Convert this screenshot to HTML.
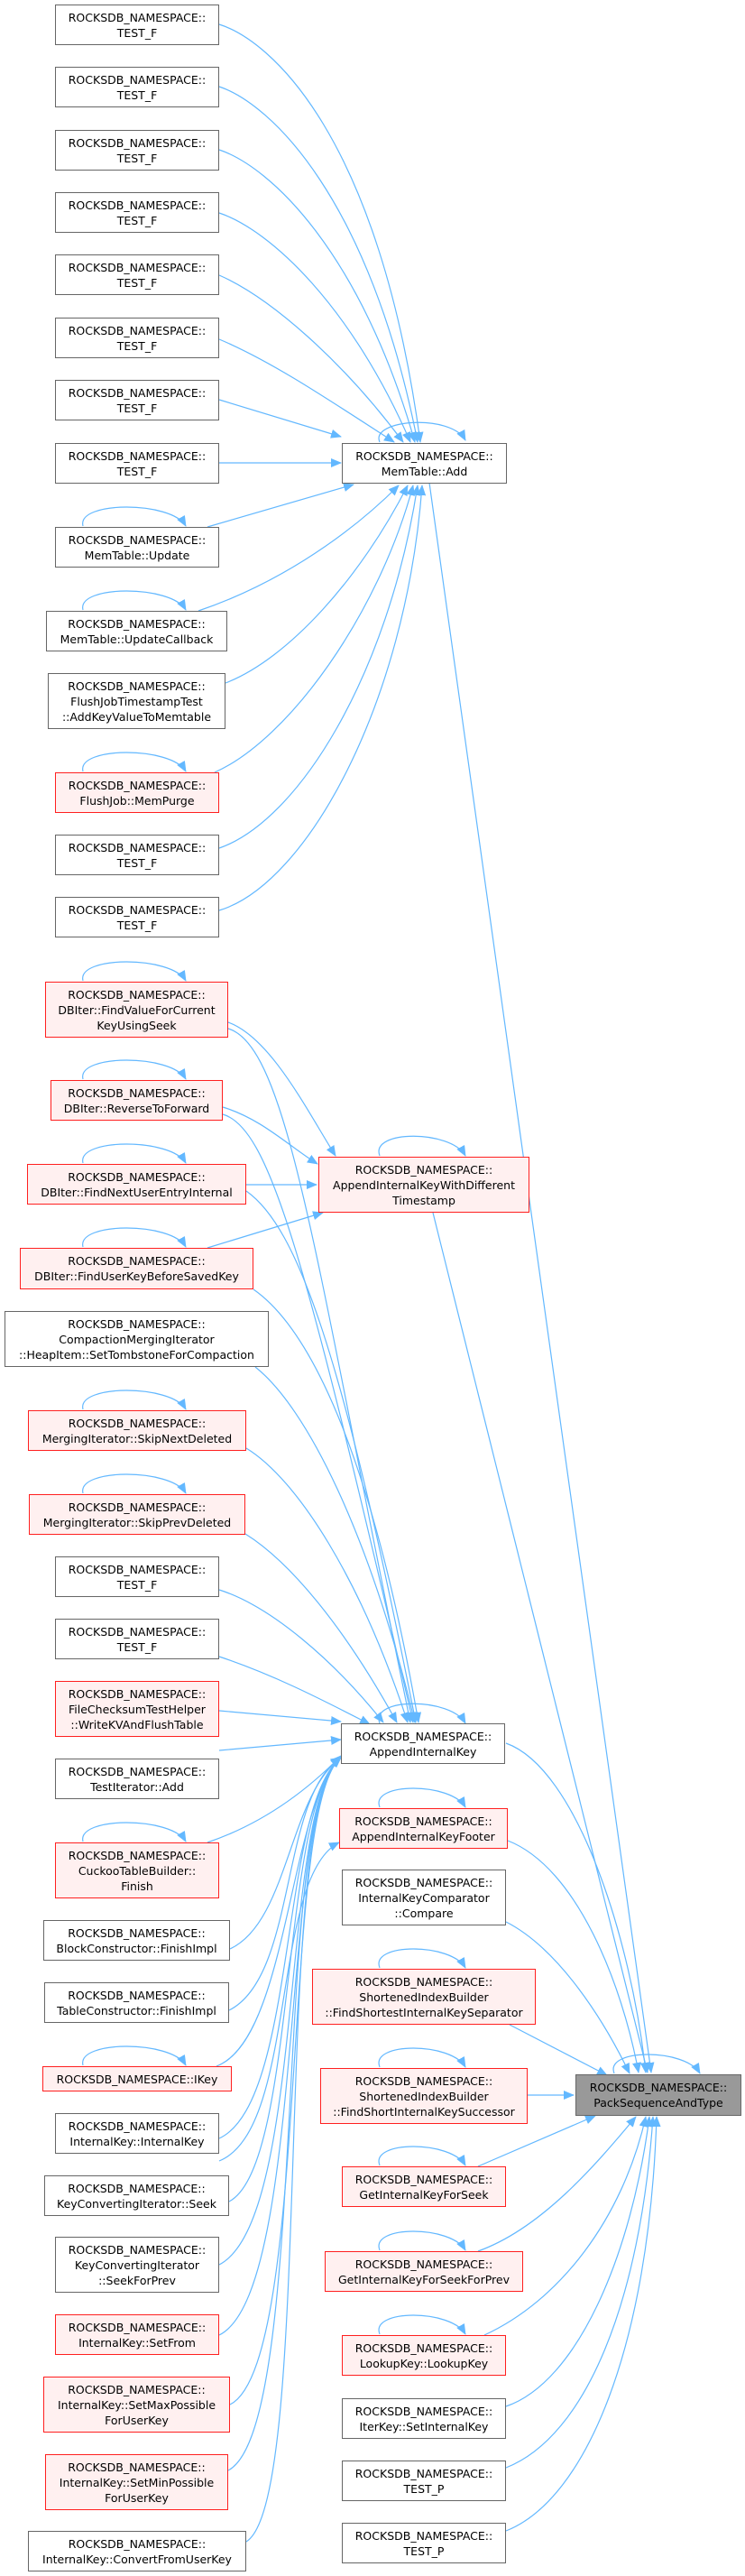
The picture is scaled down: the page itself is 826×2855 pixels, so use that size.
<!DOCTYPE html>
<html><head><meta charset="utf-8"><style>
html,body{margin:0;padding:0;background:#fff}
body{width:826px;height:2855px;position:relative;overflow:hidden;font-family:"DejaVu Sans","Liberation Sans",sans-serif}
.n{position:absolute;box-sizing:border-box;border:1.5px solid #666;background:#fff;display:flex;flex-direction:column;justify-content:center;align-items:center;text-align:center;font-size:12.5px;line-height:17px;color:#000;white-space:nowrap}
.r{border-color:#ff2020;background:#fff0f0}
.g{background:#999;border-color:#666}
svg{position:absolute;left:0;top:0}
</style></head><body>
<svg width="826" height="2855" viewBox="0 0 826 2855">
<defs><marker id="a" markerUnits="userSpaceOnUse" markerWidth="12" markerHeight="10" refX="11" refY="5" orient="auto"><path d="M0,0 L12,5 L0,10 z" fill="#63b8ff"/></marker></defs>
<g fill="none" stroke="#63b8ff" stroke-width="1.2" marker-end="url(#a)">
<!-- to MemTable::Add -->
<path d="M243,27 C300,45 420,150 466,490"/>
<path d="M243,96 C300,115 410,220 463,490"/>
<path d="M243,166 C300,185 400,280 460,490"/>
<path d="M243,236 C300,255 390,340 455,490"/>
<path d="M243,305 C300,330 380,400 447,490"/>
<path d="M243,376 C300,400 360,440 437,490"/>
<path d="M243,443 L378,484"/>
<path d="M243,513 L378,513"/>
<path d="M230,584 L392,537"/>
<path d="M220,677 C300,650 380,600 442,538"/>
<path d="M250,757 C320,730 400,640 452,538"/>
<path d="M238,856 C320,820 420,680 458,538"/>
<path d="M243,940 C330,910 430,750 463,538"/>
<path d="M243,1009 C340,980 450,780 468,538"/>
<!-- Add -> Pack -->
<path d="M476,535 L722,2297"/>
<!-- to AIKWDT -->
<path d="M253,1133 C300,1150 340,1230 372,1281"/>
<path d="M247,1227 C290,1240 320,1270 352,1290"/>
<path d="M273,1313 L351,1313"/>
<path d="M230,1383 L358,1344"/>
<path d="M480,1344 L718,2297"/>
<!-- to AppendInternalKey top -->
<path d="M253,1140 C320,1160 350,1400 455,1909"/>
<path d="M247,1235 C300,1250 340,1400 458,1909"/>
<path d="M273,1320 C330,1360 380,1500 461,1909"/>
<path d="M281,1429 C340,1470 410,1600 464,1909"/>
<path d="M283,1515 C340,1560 410,1700 460,1909"/>
<path d="M273,1605 C330,1640 400,1750 452,1909"/>
<path d="M272,1700 C320,1730 380,1800 440,1909"/>
<path d="M243,1762 C300,1780 370,1840 425,1909"/>
<path d="M243,1836 C300,1855 350,1880 410,1911"/>
<path d="M243,1896 L378,1908"/>
<path d="M243,1940 L378,1928"/>
<path d="M230,2042 C280,2025 330,1995 378,1946"/>
<path d="M255,2160 C320,2130 320,1990 378,1948"/>
<path d="M254,2228 C330,2190 310,1990 378,1948"/>
<path d="M240,2290 C320,2260 320,2000 378,1948"/>
<path d="M243,2370 C330,2330 310,2000 378,1948"/>
<path d="M254,2440 C330,2400 310,2000 378,1948"/>
<path d="M243,2510 C340,2460 310,2000 378,1948"/>
<path d="M243,2588 C340,2540 310,2000 378,1948"/>
<path d="M255,2665 C345,2620 310,2000 378,1948"/>
<path d="M253,2738 C345,2690 300,2000 378,1948"/>
<path d="M273,2817 C350,2770 300,2000 378,1948"/>
<path d="M243,2395 C330,2360 300,2080 376,2042"/>
<!-- to PackSequenceAndType -->
<path d="M561,1932 C640,1960 700,2150 716,2297"/>
<path d="M563,2040 C640,2070 690,2200 708,2297"/>
<path d="M561,2130 C620,2160 670,2240 698,2298"/>
<path d="M565,2244 L673,2300"/>
<path d="M585,2322 L636,2322"/>
<path d="M530,2401 L660,2345"/>
<path d="M530,2495 C600,2470 660,2400 705,2346"/>
<path d="M537,2588 C620,2550 690,2460 716,2346"/>
<path d="M561,2667 C640,2640 700,2500 720,2346"/>
<path d="M561,2735 C650,2700 710,2550 724,2346"/>
<path d="M561,2805 C650,2770 720,2600 728,2346"/>
<!-- self loops -->
<path d="M421,490 C410,465 500,458 516,488"/>
<path d="M92,583 C85,555 190,555 206,583"/>
<path d="M92,676 C85,648 190,648 206,676"/>
<path d="M92,855 C85,827 190,827 206,855"/>
<path d="M92,1087 C85,1059 190,1059 206,1087"/>
<path d="M92,1196 C85,1168 190,1168 206,1196"/>
<path d="M92,1289 C85,1261 190,1261 206,1289"/>
<path d="M92,1382 C85,1354 190,1354 206,1382"/>
<path d="M92,1562 C85,1534 190,1534 206,1562"/>
<path d="M92,1655 C85,1627 190,1627 206,1655"/>
<path d="M92,2041 C85,2013 190,2013 206,2041"/>
<path d="M92,2289 C85,2261 190,2261 206,2289"/>
<path d="M421,1281 C410,1252 500,1252 516,1281"/>
<path d="M421,1910 C410,1881 500,1881 516,1910"/>
<path d="M421,2003 C410,1975 500,1975 516,2003"/>
<path d="M421,2181 C410,2153 500,2153 516,2181"/>
<path d="M421,2291 C410,2263 500,2263 516,2291"/>
<path d="M421,2400 C410,2372 500,2372 516,2400"/>
<path d="M421,2494 C410,2466 500,2466 516,2494"/>
<path d="M421,2587 C410,2559 500,2559 516,2587"/>
<path d="M681,2298 C670,2270 760,2270 776,2298"/>
</g>
</svg>

<div class="n" style="left:61px;top:5px;width:182px;height:45px">ROCKSDB_NAMESPACE::<br>TEST_F</div>
<div class="n" style="left:61px;top:74px;width:182px;height:45px">ROCKSDB_NAMESPACE::<br>TEST_F</div>
<div class="n" style="left:61px;top:144px;width:182px;height:45px">ROCKSDB_NAMESPACE::<br>TEST_F</div>
<div class="n" style="left:61px;top:213px;width:182px;height:45px">ROCKSDB_NAMESPACE::<br>TEST_F</div>
<div class="n" style="left:61px;top:282px;width:182px;height:45px">ROCKSDB_NAMESPACE::<br>TEST_F</div>
<div class="n" style="left:61px;top:352px;width:182px;height:45px">ROCKSDB_NAMESPACE::<br>TEST_F</div>
<div class="n" style="left:61px;top:421px;width:182px;height:45px">ROCKSDB_NAMESPACE::<br>TEST_F</div>
<div class="n" style="left:61px;top:491px;width:182px;height:45px">ROCKSDB_NAMESPACE::<br>TEST_F</div>
<div class="n" style="left:379px;top:491px;width:183px;height:45px">ROCKSDB_NAMESPACE::<br>MemTable::Add</div>
<div class="n" style="left:61px;top:584px;width:182px;height:45px">ROCKSDB_NAMESPACE::<br>MemTable::Update</div>
<div class="n" style="left:51px;top:677px;width:201px;height:45px">ROCKSDB_NAMESPACE::<br>MemTable::UpdateCallback</div>
<div class="n" style="left:53px;top:746px;width:197px;height:62px">ROCKSDB_NAMESPACE::<br>FlushJobTimestampTest<br>::AddKeyValueToMemtable</div>
<div class="n r" style="left:61px;top:856px;width:182px;height:45px">ROCKSDB_NAMESPACE::<br>FlushJob::MemPurge</div>
<div class="n" style="left:61px;top:925px;width:182px;height:45px">ROCKSDB_NAMESPACE::<br>TEST_F</div>
<div class="n" style="left:61px;top:994px;width:182px;height:45px">ROCKSDB_NAMESPACE::<br>TEST_F</div>
<div class="n r" style="left:50px;top:1088px;width:203px;height:62px">ROCKSDB_NAMESPACE::<br>DBIter::FindValueForCurrent<br>KeyUsingSeek</div>
<div class="n r" style="left:56px;top:1197px;width:191px;height:45px">ROCKSDB_NAMESPACE::<br>DBIter::ReverseToForward</div>
<div class="n r" style="left:353px;top:1282px;width:234px;height:62px">ROCKSDB_NAMESPACE::<br>AppendInternalKeyWithDifferent<br>Timestamp</div>
<div class="n r" style="left:30px;top:1290px;width:243px;height:45px">ROCKSDB_NAMESPACE::<br>DBIter::FindNextUserEntryInternal</div>
<div class="n r" style="left:22px;top:1383px;width:259px;height:46px">ROCKSDB_NAMESPACE::<br>DBIter::FindUserKeyBeforeSavedKey</div>
<div class="n" style="left:5px;top:1453px;width:293px;height:62px">ROCKSDB_NAMESPACE::<br>CompactionMergingIterator<br>::HeapItem::SetTombstoneForCompaction</div>
<div class="n r" style="left:31px;top:1563px;width:242px;height:45px">ROCKSDB_NAMESPACE::<br>MergingIterator::SkipNextDeleted</div>
<div class="n r" style="left:32px;top:1656px;width:240px;height:45px">ROCKSDB_NAMESPACE::<br>MergingIterator::SkipPrevDeleted</div>
<div class="n" style="left:61px;top:1725px;width:182px;height:45px">ROCKSDB_NAMESPACE::<br>TEST_F</div>
<div class="n" style="left:61px;top:1794px;width:182px;height:45px">ROCKSDB_NAMESPACE::<br>TEST_F</div>
<div class="n r" style="left:61px;top:1863px;width:182px;height:62px">ROCKSDB_NAMESPACE::<br>FileChecksumTestHelper<br>::WriteKVAndFlushTable</div>
<div class="n" style="left:378px;top:1910px;width:182px;height:45px">ROCKSDB_NAMESPACE::<br>AppendInternalKey</div>
<div class="n" style="left:61px;top:1949px;width:182px;height:45px">ROCKSDB_NAMESPACE::<br>TestIterator::Add</div>
<div class="n r" style="left:376px;top:2004px;width:187px;height:45px">ROCKSDB_NAMESPACE::<br>AppendInternalKeyFooter</div>
<div class="n r" style="left:61px;top:2042px;width:182px;height:62px">ROCKSDB_NAMESPACE::<br>CuckooTableBuilder::<br>Finish</div>
<div class="n" style="left:379px;top:2072px;width:182px;height:62px">ROCKSDB_NAMESPACE::<br>InternalKeyComparator<br>::Compare</div>
<div class="n" style="left:48px;top:2128px;width:207px;height:45px">ROCKSDB_NAMESPACE::<br>BlockConstructor::FinishImpl</div>
<div class="n r" style="left:346px;top:2182px;width:248px;height:62px">ROCKSDB_NAMESPACE::<br>ShortenedIndexBuilder<br>::FindShortestInternalKeySeparator</div>
<div class="n" style="left:49px;top:2197px;width:205px;height:45px">ROCKSDB_NAMESPACE::<br>TableConstructor::FinishImpl</div>
<div class="n r" style="left:47px;top:2290px;width:210px;height:28px">ROCKSDB_NAMESPACE::IKey</div>
<div class="n r" style="left:355px;top:2292px;width:230px;height:62px">ROCKSDB_NAMESPACE::<br>ShortenedIndexBuilder<br>::FindShortInternalKeySuccessor</div>
<div class="n g" style="left:638px;top:2299px;width:184px;height:46px">ROCKSDB_NAMESPACE::<br>PackSequenceAndType</div>
<div class="n" style="left:61px;top:2342px;width:182px;height:45px">ROCKSDB_NAMESPACE::<br>InternalKey::InternalKey</div>
<div class="n r" style="left:379px;top:2401px;width:182px;height:45px">ROCKSDB_NAMESPACE::<br>GetInternalKeyForSeek</div>
<div class="n" style="left:49px;top:2411px;width:205px;height:45px">ROCKSDB_NAMESPACE::<br>KeyConvertingIterator::Seek</div>
<div class="n" style="left:61px;top:2479px;width:182px;height:62px">ROCKSDB_NAMESPACE::<br>KeyConvertingIterator<br>::SeekForPrev</div>
<div class="n r" style="left:360px;top:2495px;width:220px;height:45px">ROCKSDB_NAMESPACE::<br>GetInternalKeyForSeekForPrev</div>
<div class="n r" style="left:61px;top:2565px;width:182px;height:45px">ROCKSDB_NAMESPACE::<br>InternalKey::SetFrom</div>
<div class="n r" style="left:379px;top:2588px;width:182px;height:45px">ROCKSDB_NAMESPACE::<br>LookupKey::LookupKey</div>
<div class="n r" style="left:48px;top:2634px;width:207px;height:62px">ROCKSDB_NAMESPACE::<br>InternalKey::SetMaxPossible<br>ForUserKey</div>
<div class="n" style="left:379px;top:2658px;width:182px;height:45px">ROCKSDB_NAMESPACE::<br>IterKey::SetInternalKey</div>
<div class="n r" style="left:50px;top:2720px;width:203px;height:62px">ROCKSDB_NAMESPACE::<br>InternalKey::SetMinPossible<br>ForUserKey</div>
<div class="n" style="left:379px;top:2727px;width:182px;height:45px">ROCKSDB_NAMESPACE::<br>TEST_P</div>
<div class="n" style="left:379px;top:2796px;width:182px;height:45px">ROCKSDB_NAMESPACE::<br>TEST_P</div>
<div class="n" style="left:31px;top:2805px;width:242px;height:45px">ROCKSDB_NAMESPACE::<br>InternalKey::ConvertFromUserKey</div>
</body></html>
